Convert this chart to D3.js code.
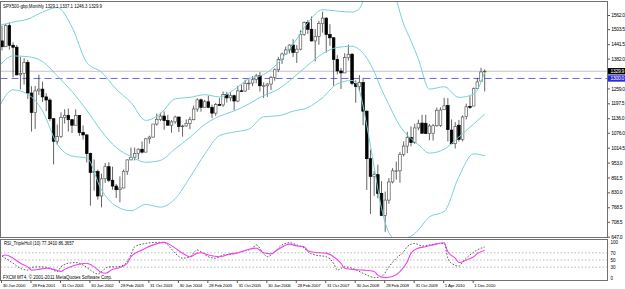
<!DOCTYPE html>
<html><head><meta charset="utf-8">
<script src="https://cdn.jsdelivr.net/npm/d3@7"></script>
<style>
html,body{margin:0;padding:0;background:#fff;overflow:hidden}
svg{display:block}
text{font-family:"Liberation Sans",Arial,sans-serif;fill:#000}
</style></head><body>
<svg id="c" width="625" height="289"></svg>
<script>
// ---- data (monthly bars) ----
const opens=[1455,1431,1518,1437,1429,1315,
1320,1366,1240,1160,1249,1256,1224,1211,1134,1041,1060,1139,
1148,1130,1107,1147,1077,1067,990,912,916,815,886,936,
880,856,841,848,917,964,975,990,1008,996,1051,1058,
1112,1131,1145,1126,1107,1121,1141,1102,1104,1115,1130,1174,
1212,1181,1204,1181,1157,1192,1191,1234,1220,1229,1207,1249,
1248,1280,1281,1295,1311,1270,1270,1277,1304,1336,1378,1401,
1418,1438,1407,1421,1482,1531,1503,1455,1474,1527,1549,1481,
1468,1379,1331,1323,1386,1400,1280,1267,1283,1165,969,896,
903,826,735,798,873,919,919,987,1021,1057,1036,1096,
1116,1115,1073,1074,1105,1106,1171,1188,1087,1031,1107,1049,1143,1185,1186,
1258,1289,1329.1];
const highs=[1518,1525,1530,1449,1438,1389,
1384,1377,1268,1269,1316,1287,1239,1218,1134,1110,1160,1173,
1176,1131,1173,1147,1106,1070,994,966,924,907,951,954,
936,865,896,924,966,1015,1015,1012,1040,1054,1064,1112,
1155,1159,1164,1150,1128,1146,1141,1109,1131,1142,1188,1218,
1217,1212,1229,1192,1199,1219,1246,1245,1243,1233,1270,1275,
1295,1297,1310,1319,1327,1284,1281,1311,1341,1389,1407,1432,
1441,1462,1438,1499,1535,1541,1556,1504,1538,1576,1553,1524,
1471,1396,1344,1404,1440,1405,1292,1314,1303,1168,1007,919,
944,876,833,889,930,957,997,1040,1080,1102,1113,1130,
1150,1150,1112,1112,1180,1181,1220,1219,1131,1120,1129,1148,1196,1227,1263,
1303,1344,1337.1];
const lows=[1416,1431,1419,1305,1313,1255,
1275,1215,1081,1092,1232,1203,1165,1124,945,1026,1054,1114,
1081,1075,1107,1063,1048,953,775,837,800,768,869,872,
841,807,789,847,902,963,962,966,990,996,1031,1056,
1105,1124,1088,1107,1076,1113,1079,1060,1101,1091,1127,1163,
1163,1180,1177,1137,1146,1188,1183,1201,1206,1168,1202,1245,
1245,1253,1268,1280,1246,1219,1224,1252,1291,1326,1360,1398,
1403,1389,1364,1416,1476,1484,1453,1371,1439,1489,1407,1435,
1270,1317,1257,1323,1374,1272,1200,1248,1107,840,741,815,
805,735,667,783,867,882,870,978,992,1020,1030,1086,
1071,1071,1045,1044,1101,1100,1170,1040,1028,1011,1040,1040,1131,1174,1186,
1257,1289,1246.3];
const closes=[1431,1518,1437,1429,1315,1320,
1366,1240,1160,1249,1256,1224,1211,1134,1041,1060,1139,1148,
1130,1107,1147,1077,1067,990,912,916,815,886,936,880,
856,841,848,917,964,975,990,1008,996,1051,1058,1112,
1131,1145,1126,1107,1121,1141,1102,1104,1115,1130,1174,1212,
1181,1204,1181,1157,1192,1191,1234,1220,1229,1207,1249,1248,
1280,1281,1295,1311,1270,1270,1277,1304,1336,1378,1401,1418,
1438,1407,1421,1482,1531,1503,1455,1474,1527,1549,1481,1468,
1379,1331,1323,1386,1400,1280,1267,1283,1165,969,896,903,
826,735,798,873,919,919,987,1021,1057,1036,1096,1115,
1074,1073,1104,1105,1169,1170,1187,1089,1031,1102,1049,1141,1183,1181,1258,
1286,1327,1329.9];

const dateTickIndex=[0,8,16,24,32,40,48,56,64,72,80,88,96,104,112,120,128];
const dateTickLabels=["30 Jun 2000","28 Feb 2001","31 Oct 2001","30 Jun 2002","28 Feb 2003","31 Oct 2003","30 Jun 2004","28 Feb 2005","31 Oct 2005","30 Jun 2006","28 Feb 2007","31 Oct 2007","30 Jun 2008","28 Feb 2009","31 Oct 2009","1 Apr 2010","1 Dec 2010"];
const priceTicks=[1562.0,1503.5,1441.5,1382.0,1259.0,1197.5,1136.0,1076.0,1014.5,953.0,891.5,830.0,768.5,708.5,647.0];

// Bollinger bands
const bandIndex=[-1,3,7,11,15,19,23,27,31,35,39,43,47,51,55,59,63,67,71,75,79,83,87,91,95,97,99,101,103,105,107,109,111,113,116,120,124,128,131];
const bandMiddle=[1347,1393,1390,1370,1311,1246,1169,1083,1015,978,954,962,1010,1057,1110,1144,1166,1195,1229,1256,1303,1355,1402,1428,1433,1419,1384,1329,1255,1192,1130,1083,1052,1027,992,1008,1059,1112,1153];
const bandUpper=[1518,1533,1545,1574,1593,1512,1366,1326,1256,1201,1127,1155,1216,1222,1233,1224,1254,1299,1316,1365,1441,1530,1584,1578,1574,1589,1661,1723,1746,1720,1625,1525,1455,1380,1256,1266,1222,1235,1326];
const bandLower=[1176,1253,1235,1166,1029,980,972,840,773,754,780,769,804,892,987,1064,1079,1091,1142,1146,1165,1180,1221,1278,1292,1249,1106,934,764,664,635,641,649,675,729,751,895,989,981];

// RSI_TripleHull panel
const rsiIndex=[0,1,3,5,7,8,10,12,14,16,17,20,23,25,27,28,30,32,34,35,38,41,44,45,47,49,51,53,54,56,59,62,64,67,69,71,73,75,78,80,82,83,86,88,90,92,93,95,98,101,102,104,106,108,110,111,113,115,117,120,121,123,124,126,128,129,131];
const rsiValues=[61,64,55,41,31,22,24,27,24,18,24,36,41,31,15,13,24,29,41,59,78,92,99,96,83,69,59,69,70,64,59,67,70,80,83,70,67,80,94,89,87,76,70,69,59,41,27,24,22,18,8,1,4,18,45,69,83,87,92,98,73,55,43,50,59,68,77.34];
const sigIndex=[0,3,5,7,8,11,13,15,16,18,20,22,24,26,27,29,31,33,35,36,39,42,44,45,47,49,51,53,54,56,58,60,63,65,68,69,71,72,74,76,78,80,82,83,85,88,90,91,93,95,98,100,101,103,105,107,109,110,112,114,116,119,120,121,122,124,125,127,129,131];
const sigValues=[61,41,27,22,30,31,27,18,31,41,43,36,22,11,18,31,31,36,64,87,96,99,99,92,69,55,59,78,73,59,55,64,67,73,83,92,67,59,73,92,98,92,83,73,64,59,41,22,31,27,13,4,1,4,31,55,73,87,96,89,92,96,96,55,41,33,45,64,78,86.37];
const rsiLevels=[70,50,30];
const rsiTicks=[100,70,50,30,0];

const lastPrice=1329.9, hLineLevel=1300.0;
const titleText="SPX500-gbp,Monthly  1329.1 1337.1 1246.3 1329.9";
const rsiTitle="RSI_TripleHull (10)  77.3410 86.3657";
const copyText="FXCM MT4, \u00A9 2001-2011 MetaQuotes Software Corp.";

// ---- drawing ----
const svg=d3.select("#c");
const x=d3.scaleLinear().domain([0,131]).range([2,484.7]);
const y=d3.scaleLinear().domain([647,1562]).range([236.7,15]);
const yr=d3.scaleLinear().domain([0,100]).range([278,242]);
const M={l:0.5,r:607.5,t:1.5,b:237.5};
const I={t:239.5,b:280.5};

const defs=svg.append("defs");
defs.append("clipPath").attr("id","mc").append("rect")
  .attr("x",M.l).attr("y",M.t).attr("width",M.r-M.l).attr("height",M.b-M.t);
defs.append("clipPath").attr("id","ic").append("rect")
  .attr("x",M.l).attr("y",I.t).attr("width",M.r-M.l).attr("height",I.b-I.t);

const gm=svg.append("g").attr("clip-path","url(#mc)");
// current price line
gm.append("line").attr("x1",M.l).attr("x2",M.r).attr("y1",y(lastPrice)).attr("y2",y(lastPrice))
  .attr("stroke","#c4c4c4").attr("stroke-width",1);
// horizontal level line
gm.append("line").attr("x1",M.l).attr("x2",M.r).attr("y1",y(hLineLevel)).attr("y2",y(hLineLevel))
  .attr("stroke","#6a6ae0").attr("stroke-width",1).attr("stroke-dasharray","7,4");

const idx=d3.range(closes.length);
gm.selectAll("line.wick").data(idx).join("line").attr("class","wick")
  .attr("x1",i=>x(i)).attr("x2",i=>x(i))
  .attr("y1",i=>y(highs[i])).attr("y2",i=>y(lows[i]))
  .attr("stroke","#3c3c3c").attr("stroke-width",0.8);
gm.selectAll("rect.body").data(idx).join("rect").attr("class","body")
  .attr("x",i=>x(i)-1.3).attr("width",2.6)
  .attr("y",i=>y(Math.max(opens[i],closes[i])))
  .attr("height",i=>Math.max(0.7,Math.abs(y(opens[i])-y(closes[i]))))
  .attr("fill",i=>closes[i]>=opens[i]?"#ffffff":"#000000")
  .attr("stroke",i=>closes[i]>=opens[i]?"#5a5a5a":"#000000")
  .attr("stroke-width",0.7);

const bandLine=d3.line().x(d=>x(d[0])).y(d=>y(d[1])).curve(d3.curveMonotoneX);
[bandUpper,bandMiddle,bandLower].forEach(arr=>{
  gm.append("path").datum(bandIndex.map((b,k)=>[b,arr[k]]))
    .attr("d",bandLine).attr("fill","none").attr("stroke","#78d0d8").attr("stroke-width",1);
});

// frames
svg.append("rect").attr("x",M.l).attr("y",M.t).attr("width",M.r-M.l).attr("height",M.b-M.t)
  .attr("fill","none").attr("stroke","#707070").attr("stroke-width",1);
svg.append("rect").attr("x",M.l).attr("y",I.t).attr("width",M.r-M.l).attr("height",I.b-I.t)
  .attr("fill","none").attr("stroke","#707070").attr("stroke-width",1);

// price axis
const ay=svg.append("g").attr("transform",`translate(${M.r},0)`)
  .call(d3.axisRight(y).tickValues(priceTicks).tickSize(2.5).tickPadding(1.2).tickFormat(d3.format(".1f")));
ay.select(".domain").remove();
ay.selectAll("line").attr("stroke","#555");
ay.selectAll("text").attr("font-size",5).style("letter-spacing","-0.3px").attr("font-family","Liberation Sans, Arial, sans-serif");

// price boxes
function priceBox(v,fill){
  const g=svg.append("g");
  g.append("rect").attr("x",608).attr("y",y(v)-3.2).attr("width",17).attr("height",6.4).attr("fill",fill);
  g.append("text").attr("x",610.5).attr("y",y(v)).attr("dy","0.35em").attr("font-size",5)
    .style("letter-spacing","-0.3px").style("fill","#fff").text(d3.format(".1f")(v));
}
priceBox(lastPrice,"#000000");
priceBox(hLineLevel,"#2a2ad8");

// title
svg.append("text").attr("x",3).attr("y",8).attr("font-size",5).attr("textLength",99)
  .attr("lengthAdjust","spacingAndGlyphs").text(titleText);

// indicator panel
const gi=svg.append("g").attr("clip-path","url(#ic)");
gi.selectAll("line.lvl").data(rsiLevels).join("line").attr("class","lvl")
  .attr("x1",M.l).attr("x2",M.r).attr("y1",d=>yr(d)).attr("y2",d=>yr(d))
  .attr("stroke","#a8a8a8").attr("stroke-width",0.8).attr("stroke-dasharray","1.5,2");
const rLine=d3.line().x(d=>x(d[0])).y(d=>yr(d[1])).curve(d3.curveMonotoneX);
gi.append("path").datum(sigIndex.map((b,k)=>[b,sigValues[k]])).attr("d",rLine)
  .attr("fill","none").attr("stroke","#333").attr("stroke-width",0.8).attr("stroke-dasharray","1.6,1.6");
gi.append("path").datum(rsiIndex.map((b,k)=>[b,rsiValues[k]])).attr("d",rLine)
  .attr("fill","none").attr("stroke","#ee44ee").attr("stroke-width",1.1);

const ar=svg.append("g").attr("transform",`translate(${M.r},0)`)
  .call(d3.axisRight(yr).tickValues(rsiTicks).tickSize(0).tickPadding(3).tickFormat(d3.format("d")));
ar.select(".domain").remove();
ar.selectAll("text").attr("font-size",4.6).attr("font-family","Liberation Sans, Arial, sans-serif");

svg.append("text").attr("x",4).attr("y",245).attr("font-size",4.6).attr("textLength",70)
  .attr("lengthAdjust","spacingAndGlyphs").text(rsiTitle);
svg.append("text").attr("x",3).attr("y",279).attr("font-size",4.8).attr("textLength",109)
  .attr("lengthAdjust","spacingAndGlyphs").text(copyText);

// date axis
const ax=svg.append("g").attr("transform",`translate(0,${I.b})`)
  .call(d3.axisBottom(x).tickValues(dateTickIndex).tickSize(2.5).tickPadding(1)
    .tickFormat((d,i)=>dateTickLabels[i]));
ax.select(".domain").remove();
ax.selectAll("line").attr("stroke","#555").attr("transform","translate(-1,0)");
ax.selectAll("text").attr("font-size",4.4).attr("text-anchor","start").attr("dx","0.2")
  .style("letter-spacing","-0.15px").attr("font-family","Liberation Sans, Arial, sans-serif");
</script>
</body></html>
